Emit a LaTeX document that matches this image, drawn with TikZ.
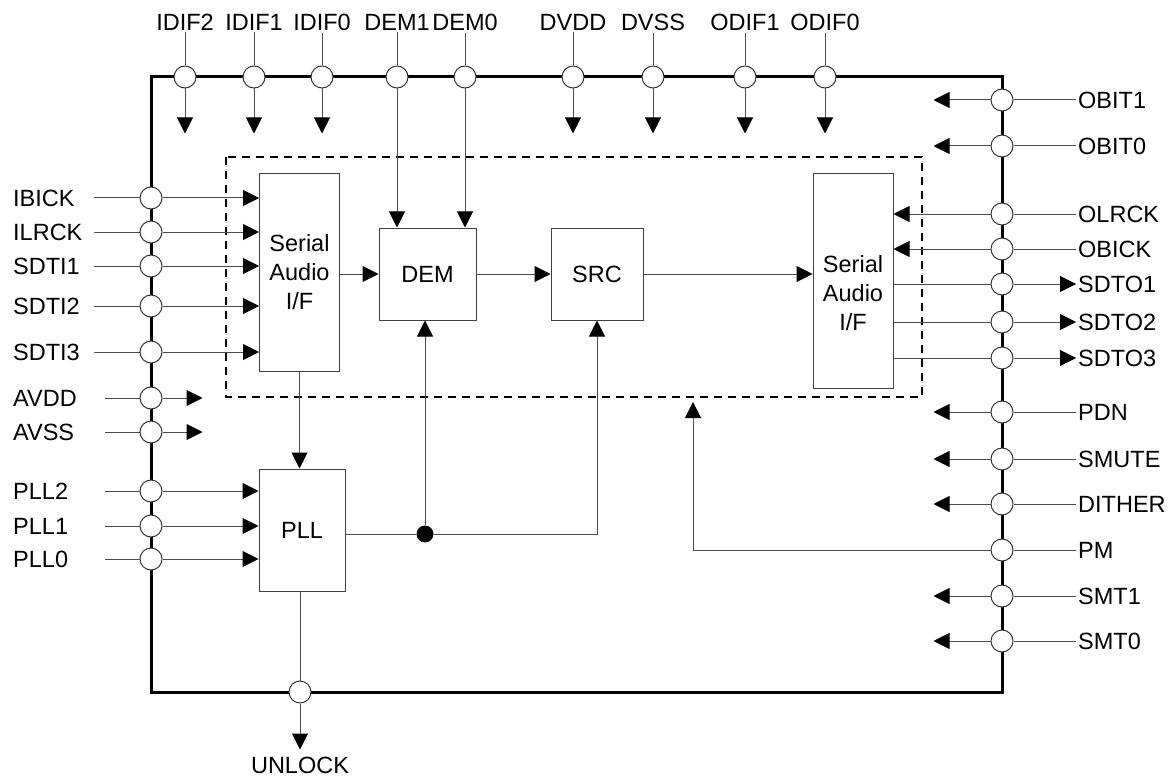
\documentclass[tikz,border=0pt]{standalone}
\usepackage{fontspec}
\setmainfont{Liberation Sans}
\usetikzlibrary{arrows.meta}

\begin{document}
\begin{tikzpicture}[x=1pt, y=-1pt,
        every node/.style={font=\fontsize{23.5}{29}\selectfont},
        ln/.style={draw=black!70, line width=1pt},
        arr/.style={ln, -{Triangle[length=16pt, width=16pt, black]}},
        pinc/.style={draw=black!80, fill=white, shape=circle, line width=1pt, minimum size=22pt, inner sep=0pt},
        lab/.style={inner sep=2pt},
        lleft/.style={lab, anchor=west, align=left, text width=79pt},
        lleftb/.style={lab, anchor=west, align=left, text width=90pt},
        lright/.style={lab, anchor=west},
        blk/.style={draw=black!75, fill=white, line width=1pt, align=center, inner sep=0pt},
        dot/.style={fill=black, shape=circle, minimum size=17pt, inner sep=0pt}]
            \useasboundingbox (0,0) rectangle (1172,778);

            % chip outline and core
            \draw[line width=3pt] (151,77) rectangle (1002,692);
            \draw[line width=2pt, dash pattern=on 8pt off 6pt] (226,157) rectangle (922,397);

            % blocks
            \node[blk, minimum width=80pt, minimum height=197pt] (SerL) at (299.5,272.5) {Serial\\Audio\\I/F};
            \node[blk, minimum width=97pt, minimum height=92pt] (DEM) at (427.5,274) {DEM};
            \node[blk, minimum width=92pt, minimum height=92pt] (SRC) at (597,274) {SRC};
            \node[blk, minimum width=80pt, minimum height=214pt, label={[yshift=-12pt, align=center]center:Serial\\Audio\\I/F}] (SerR) at (853,281) {};
            \node[blk, minimum width=86pt, minimum height=122pt] (PLL) at (302,530) {PLL};
            \node[dot] (jn) at (425,534) {};

            % top pins
            \node[pinc] (IDIF2) at (185,77) {};
            \node[pinc] (IDIF1) at (254,77) {};
            \node[pinc] (IDIF0) at (322,77) {};
            \node[pinc] (DEM1) at (397,77) {};
            \node[pinc] (DEM0) at (465,77) {};
            \node[pinc] (DVDD) at (573,77) {};
            \node[pinc] (DVSS) at (653,77) {};
            \node[pinc] (ODIF1) at (745,77) {};
            \node[pinc] (ODIF0) at (825,77) {};

            \node[lab] (LIDIF2) at (185,22) {IDIF2};
            \node[lab] (LIDIF1) at (254,22) {IDIF1};
            \node[lab] (LIDIF0) at (322,22) {IDIF0};
            \node[lab] (LDEM1) at (397,22) {DEM1};
            \node[lab] (LDEM0) at (465,22) {DEM0};
            \node[lab] (LDVDD) at (573,22) {DVDD};
            \node[lab] (LDVSS) at (653,22) {DVSS};
            \node[lab] (LODIF1) at (745,22) {ODIF1};
            \node[lab] (LODIF0) at (825,22) {ODIF0};

            \draw[ln] (LIDIF2) -- (IDIF2);
            \draw[ln] (LIDIF1) -- (IDIF1);
            \draw[ln] (LIDIF0) -- (IDIF0);
            \draw[ln] (LDEM1) -- (DEM1);
            \draw[ln] (LDEM0) -- (DEM0);
            \draw[ln] (LDVDD) -- (DVDD);
            \draw[ln] (LDVSS) -- (DVSS);
            \draw[ln] (LODIF1) -- (ODIF1);
            \draw[ln] (LODIF0) -- (ODIF0);

            \draw[arr] (IDIF2.south) -- ++(0,45);
            \draw[arr] (IDIF1.south) -- ++(0,45);
            \draw[arr] (IDIF0.south) -- ++(0,45);
            \draw[arr] (DEM1) -- (DEM1 |- DEM.north);
            \draw[arr] (DEM0) -- (DEM0 |- DEM.north);
            \draw[arr] (DVDD.south) -- ++(0,45);
            \draw[arr] (DVSS.south) -- ++(0,45);
            \draw[arr] (ODIF1.south) -- ++(0,45);
            \draw[arr] (ODIF0.south) -- ++(0,45);

            % left pins
            \node[pinc] (IBICK) at (151,198) {};
            \node[pinc] (ILRCK) at (151,232) {};
            \node[pinc] (SDTI1) at (151,266) {};
            \node[pinc] (SDTI2) at (151,306) {};
            \node[pinc] (SDTI3) at (151,352) {};
            \node[pinc] (AVDD) at (151,398) {};
            \node[pinc] (AVSS) at (151,432) {};
            \node[pinc] (PLL2) at (151,491) {};
            \node[pinc] (PLL1) at (151,526) {};
            \node[pinc] (PLL0) at (151,559) {};

            \node[lleft] (LIBICK) at (11,198) {IBICK};
            \node[lleft] (LILRCK) at (11,232) {ILRCK};
            \node[lleft] (LSDTI1) at (11,266) {SDTI1};
            \node[lleft] (LSDTI2) at (11,306) {SDTI2};
            \node[lleft] (LSDTI3) at (11,352) {SDTI3};
            \node[lleftb] (LAVDD) at (11,398) {AVDD};
            \node[lleftb] (LAVSS) at (11,432) {AVSS};
            \node[lleftb] (LPLL2) at (11,491) {PLL2};
            \node[lleftb] (LPLL1) at (11,526) {PLL1};
            \node[lleftb] (LPLL0) at (11,559) {PLL0};

            \draw[ln] (LIBICK) -- (IBICK);
            \draw[ln] (LILRCK) -- (ILRCK);
            \draw[ln] (LSDTI1) -- (SDTI1);
            \draw[ln] (LSDTI2) -- (SDTI2);
            \draw[ln] (LSDTI3) -- (SDTI3);
            \draw[ln] (LAVDD) -- (AVDD);
            \draw[ln] (LAVSS) -- (AVSS);
            \draw[ln] (LPLL2) -- (PLL2);
            \draw[ln] (LPLL1) -- (PLL1);
            \draw[ln] (LPLL0) -- (PLL0);

            \draw[arr] (IBICK) -- (SerL.west |- IBICK);
            \draw[arr] (ILRCK) -- (SerL.west |- ILRCK);
            \draw[arr] (SDTI1) -- (SerL.west |- SDTI1);
            \draw[arr] (SDTI2) -- (SerL.west |- SDTI2);
            \draw[arr] (SDTI3) -- (SerL.west |- SDTI3);
            \draw[arr] (AVDD.east) -- ++(40,0);
            \draw[arr] (AVSS.east) -- ++(40,0);
            \draw[arr] (PLL2) -- (PLL.west |- PLL2);
            \draw[arr] (PLL1) -- (PLL.west |- PLL1);
            \draw[arr] (PLL0) -- (PLL.west |- PLL0);

            % right pins
            \node[pinc] (OBIT1) at (1002,100) {};
            \node[pinc] (OBIT0) at (1002,146) {};
            \node[pinc] (OLRCK) at (1002,214) {};
            \node[pinc] (OBICK) at (1002,249) {};
            \node[pinc] (SDTO1) at (1002,284) {};
            \node[pinc] (SDTO2) at (1002,322) {};
            \node[pinc] (SDTO3) at (1002,358) {};
            \node[pinc] (PDN) at (1002,412) {};
            \node[pinc] (SMUTE) at (1002,459) {};
            \node[pinc] (DITHER) at (1002,504) {};
            \node[pinc] (PM) at (1002,550) {};
            \node[pinc] (SMT1) at (1002,596) {};
            \node[pinc] (SMT0) at (1002,641) {};

            \node[lright] (LOBIT1) at (1076,100) {OBIT1};
            \node[lright] (LOBIT0) at (1076,146) {OBIT0};
            \node[lright] (LOLRCK) at (1076,214) {OLRCK};
            \node[lright] (LOBICK) at (1076,249) {OBICK};
            \node[lright] (LSDTO1) at (1076,284) {SDTO1};
            \node[lright] (LSDTO2) at (1076,322) {SDTO2};
            \node[lright] (LSDTO3) at (1076,358) {SDTO3};
            \node[lright] (LPDN) at (1076,412) {PDN};
            \node[lright] (LSMUTE) at (1076,459) {SMUTE};
            \node[lright] (LDITHER) at (1076,504) {DITHER};
            \node[lright] (LPM) at (1076,550) {PM};
            \node[lright] (LSMT1) at (1076,596) {SMT1};
            \node[lright] (LSMT0) at (1076,641) {SMT0};

            \draw[ln] (LOBIT1) -- (OBIT1);
            \draw[ln] (LOBIT0) -- (OBIT0);
            \draw[ln] (LOLRCK) -- (OLRCK);
            \draw[ln] (LOBICK) -- (OBICK);
            \draw[ln] (LPDN) -- (PDN);
            \draw[ln] (LSMUTE) -- (SMUTE);
            \draw[ln] (LDITHER) -- (DITHER);
            \draw[ln] (LPM) -- (PM);
            \draw[ln] (LSMT1) -- (SMT1);
            \draw[ln] (LSMT0) -- (SMT0);

            \draw[arr] (OBIT1.west) -- ++(-57,0);
            \draw[arr] (OBIT0.west) -- ++(-57,0);
            \draw[arr] (OLRCK) -- (SerR.east |- OLRCK);
            \draw[arr] (OBICK) -- (SerR.east |- OBICK);
            \draw[ln] (SerR.east |- SDTO1) -- (SDTO1);
            \draw[ln] (SerR.east |- SDTO2) -- (SDTO2);
            \draw[ln] (SerR.east |- SDTO3) -- (SDTO3);
            \draw[arr] (SDTO1) -- (LSDTO1);
            \draw[arr] (SDTO2) -- (LSDTO2);
            \draw[arr] (SDTO3) -- (LSDTO3);
            \draw[arr] (PDN.west) -- ++(-57,0);
            \draw[arr] (SMUTE.west) -- ++(-57,0);
            \draw[arr] (DITHER.west) -- ++(-57,0);
            \draw[arr] (SMT1.west) -- ++(-57,0);
            \draw[arr] (SMT0.west) -- ++(-57,0);

            \coordinate (PMtip) at (693,402);
            \draw[arr] (PM) -| (PMtip);

            % bottom pin
            \node[pinc] (UNLOCK) at (300,692) {};
            \node[lab, inner sep=1pt] (LUNLOCK) at (300,765) {UNLOCK};
            \draw[ln] (PLL.south -| UNLOCK) -- (UNLOCK);
            \draw[arr] (UNLOCK.south) -- ++(0,46);

            % signal flow
            \draw[arr] (SerL.east |- DEM) -- (DEM);
            \draw[arr] (DEM) -- (SRC);
            \draw[arr] (SRC) -- (SerR.west |- SRC);
            \draw[arr] (SerL.south) -- (SerL.south |- PLL.north);
            \draw[ln] (PLL.east |- jn) -- (jn);
            \draw[arr] (jn) -- (jn |- DEM.south);
            \draw[arr] (jn) -| (SRC.south);
        \end{tikzpicture}
\end{document}
